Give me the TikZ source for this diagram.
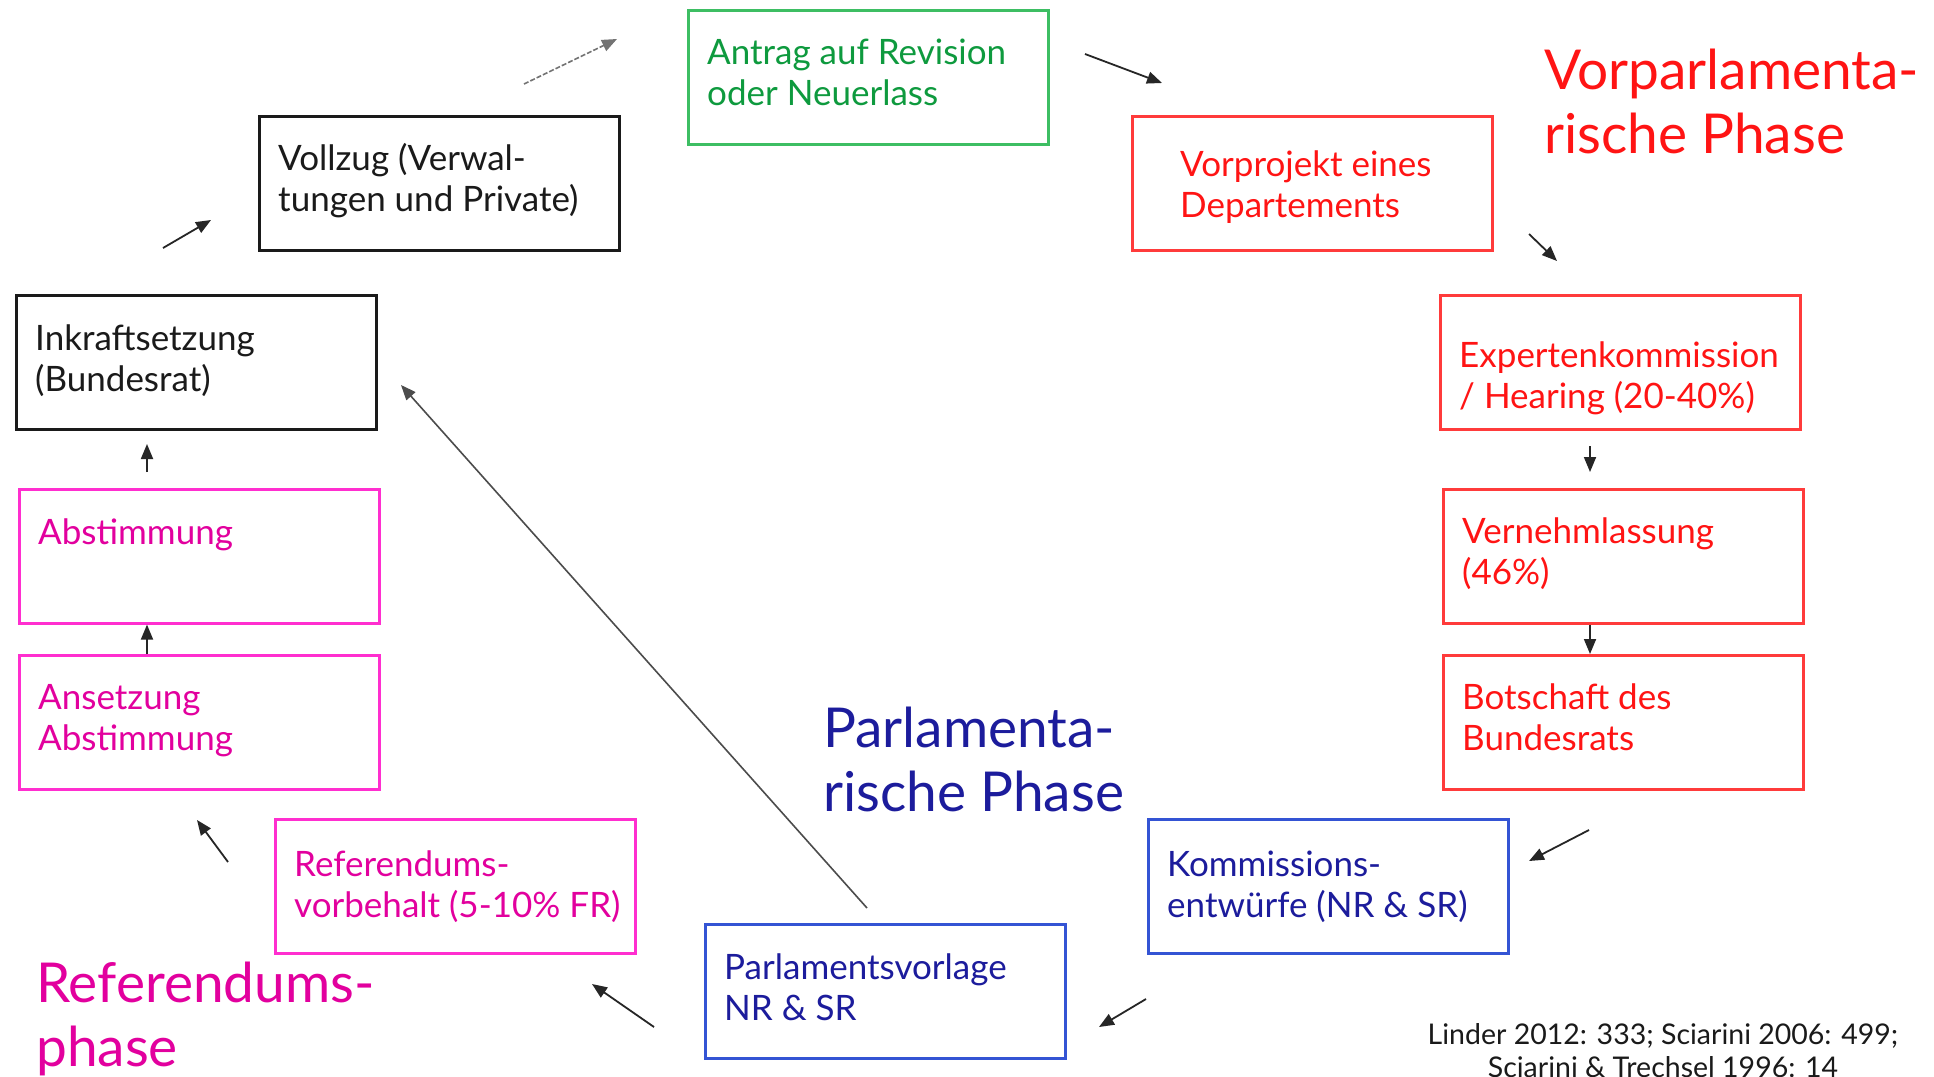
\documentclass[tikz,border=0pt]{standalone}
\usepackage{fontspec}
\setmainfont{Lato}
\usetikzlibrary{arrows.meta}
\definecolor{cred}{HTML}{FF1414}
\definecolor{credb}{HTML}{FF3B3B}
\definecolor{cgreen}{HTML}{0E9A3E}
\definecolor{cgreenb}{HTML}{3DBE63}
\definecolor{cmag}{HTML}{E2009E}
\definecolor{cmagb}{HTML}{FF2ECF}
\definecolor{cblue}{HTML}{1C1C9C}
\definecolor{cblueb}{HTML}{3454D4}
\definecolor{cblack}{HTML}{1A1A1A}
\tikzset{
  box/.style={draw=#1, line width=2.6pt, minimum width=360pt, minimum height=134pt, inner sep=0pt, anchor=north west},
  txt/.style={text=#1, anchor=base west, align=left, inner sep=0pt, font=\fontsize{35}{40.7}\selectfont},
  title/.style={text=#1, anchor=base west, align=left, inner sep=0pt, font=\fontsize{55}{64}\selectfont},
  arr/.style={draw=black!85, line width=1.8pt, -{Triangle[length=15pt,width=12pt]}},
  longarr/.style={draw=black!70, line width=1.6pt, -{Triangle[length=15pt,width=12pt]}},
  dasharr/.style={draw=black!55, line width=1.6pt, dash pattern=on 5pt off 2pt, -{Triangle[length=15pt,width=12pt]}},
}
\begin{document}
\begin{tikzpicture}[x=1pt,y=-1pt]
\useasboundingbox[fill=white] (0,0) rectangle (1934,1076);

% boxes
\node[box=cgreenb] (antrag) at (687,9) {};
\node[box=credb] (vorp) at (1131,115) {};
\node[box=credb] (expert) at (1439,294) {};
\node[box=credb] (vernehm) at (1442,488) {};
\node[box=credb] (botsch) at (1442,654) {};
\node[box=cblueb] (komm) at (1147,818) {};
\node[box=cblueb] (parl) at (704,923) {};
\node[box=cmagb] (refv) at (274,818) {};
\node[box=cmagb] (anset) at (18,654) {};
\node[box=cmagb] (abst) at (18,488) {};
\node[box=cblack] (inkraft) at (15,294) {};
\node[box=cblack] (vollzug) at (258,115) {};

% texts (base = last line)
\node[txt=cgreen] (antragT) at (707,105) {Antrag auf Revision\\oder Neuerlass};
\node[txt=cred] (vorpT) at (1180,217) {Vorprojekt eines\\Departements};
\node[txt=cred] (expertT) at (1459,408) {Expertenkommission\\/ Hearing (20-40\%)};
\node[txt=cred] (vernehmT) at (1462,584) {Vernehmlassung\\(46\%)};
\node[txt=cred] (botschT) at (1462,750) {Botschaft des\\Bundesrats};
\node[txt=cblue] (kommT) at (1167,917) {Kommissions-\\entwürfe (NR \& SR)};
\node[txt=cblue] (parlT) at (724,1020) {Parlamentsvorlage\\NR \& SR};
\node[txt=cmag] (refvT) at (294,917) {Referendums-\\vorbehalt (5-10\% FR)};
\node[txt=cmag] (ansetT) at (38,750) {Ansetzung\\Abstimmung};
\node[txt=cmag] (abstT) at (38,544) {Abstimmung};
\node[txt=cblack] (inkraftT) at (35,391) {Inkraftsetzung\\(Bundesrat)};
\node[txt=cblack] (vollzugT) at (278,211) {Vollzug (Verwal-\\tungen und Private)};

% titles
\node[title=cred] (vorparl) at (1544,153) {Vorparlamenta-\\rische Phase};
\node[title=cblue] (parlph) at (823,811) {Parlamenta-\\rische Phase};
\node[title=cmag] (refph) at (36,1066) {Referendums-\\phase};

% citation
\node[text=cblack, anchor=base, align=center, inner sep=0pt, font=\fontsize{28.5}{33}\selectfont] (cite) at (1663,1077) {Linder 2012: 333; Sciarini 2006: 499;\\Sciarini \& Trechsel 1996: 14};

% arrow end points
\coordinate (a1s) at (524,84);   \coordinate (a1e) at (617,39);
\coordinate (a2s) at (1085,54);  \coordinate (a2e) at (1162,83);
\coordinate (a3s) at (1529,234); \coordinate (a3e) at (1557,261);
\coordinate (a6s) at (1589,830); \coordinate (a6e) at (1529,861);
\coordinate (a7s) at (1146,999); \coordinate (a7e) at (1099,1027);
\coordinate (a8s) at (654,1027); \coordinate (a8e) at (592,984);
\coordinate (a9s) at (228,862);  \coordinate (a9e) at (197,820);
\coordinate (a12s) at (163,248); \coordinate (a12e) at (211,220);
\coordinate (a13s) at (867,908); \coordinate (a13e) at (401,385);
\coordinate (a4s) at (1590,446); \coordinate (a4e) at (1590,472);
\coordinate (a11s) at (147,472); \coordinate (a11e) at (147,444);

\draw[dasharr] (a1s) -- (a1e);
\draw[arr] (a2s) -- (a2e);
\draw[arr] (a3s) -- (a3e);
\draw[arr] (a4s) -- (a4e);
\draw[arr] (vernehm.south -| a4s) -- (botsch.north -| a4s);
\draw[arr] (a6s) -- (a6e);
\draw[arr] (a7s) -- (a7e);
\draw[arr] (a8s) -- (a8e);
\draw[arr] (a9s) -- (a9e);
\draw[arr] (anset.north -| a11s) -- (abst.south -| a11s);
\draw[arr] (a11s) -- (a11e);
\draw[arr] (a12s) -- (a12e);
\draw[longarr] (a13s) -- (a13e);
\end{tikzpicture}
\end{document}
